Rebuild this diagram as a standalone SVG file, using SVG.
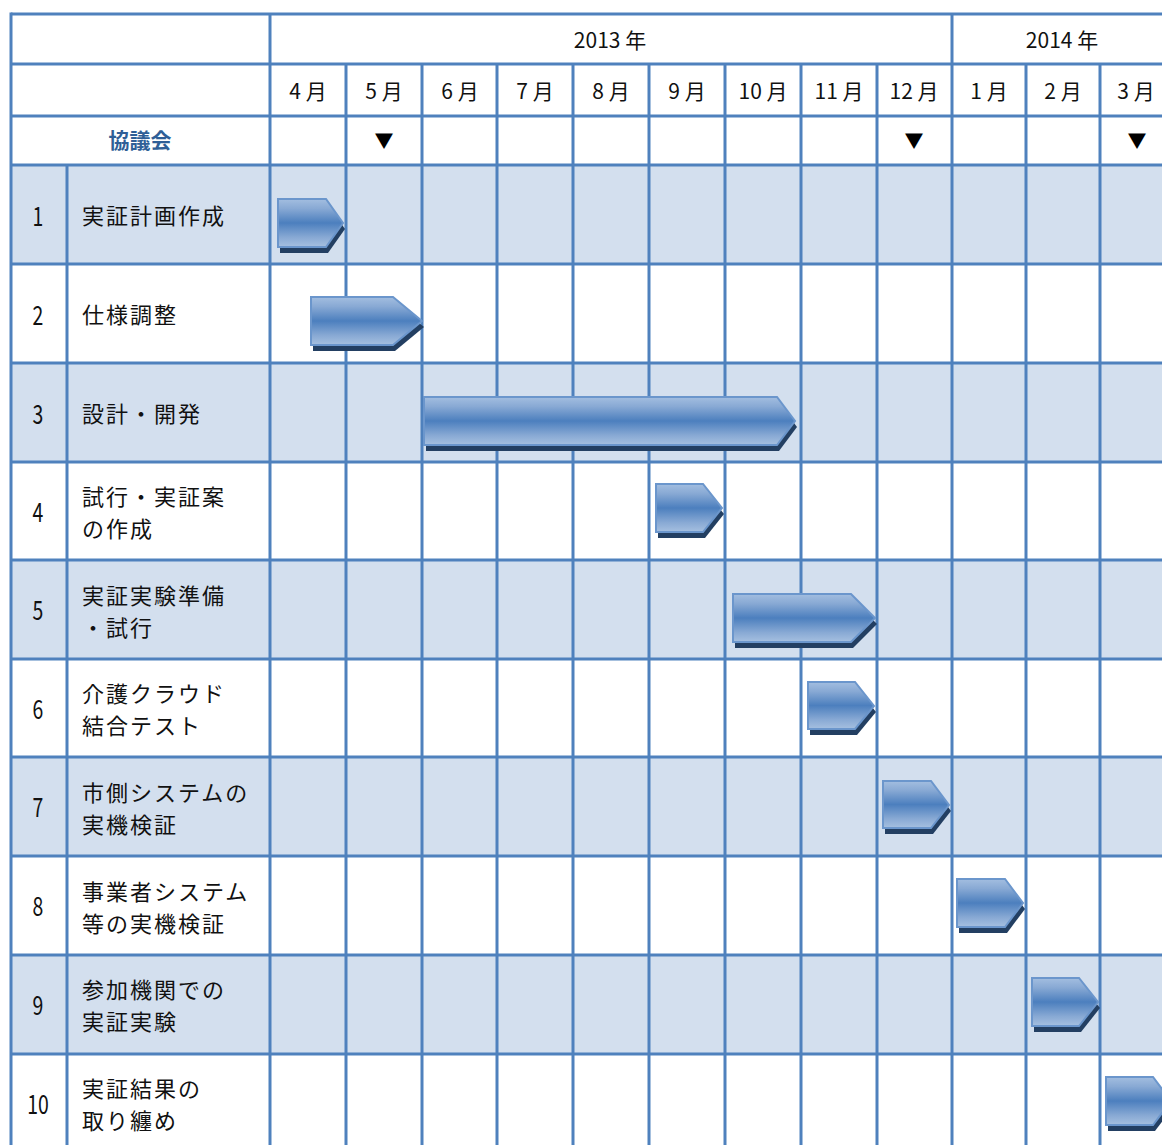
<svg xmlns="http://www.w3.org/2000/svg" width="1162" height="1145" viewBox="0 0 1162 1145">
<defs>
<linearGradient id="barGrad" x1="0" y1="0" x2="0" y2="1">
<stop offset="0" stop-color="#A3BEE0"/>
<stop offset="0.2" stop-color="#88A9D4"/>
<stop offset="0.5" stop-color="#4C7FBE"/>
<stop offset="0.8" stop-color="#88A9D4"/>
<stop offset="1" stop-color="#A6C0E0"/>
</linearGradient>
<style>
.fill{fill:#D3DFEE}
.ln{stroke:#4F81BD;stroke-width:3;fill:none}
.t{font-family:"Noto Sans CJK JP","Noto Sans",sans-serif;fill:#111}
.m{font-size:21px;text-anchor:middle}
.nm{font-size:22px;letter-spacing:2px}
.no{font-size:27px;text-anchor:middle}
.kg{font-size:21px;font-weight:bold;fill:#2F5F97;text-anchor:middle}
.tri{font-size:19px;text-anchor:middle;fill:#000}
.bar{fill:url(#barGrad);stroke:#6B96CC;stroke-width:2;stroke-linejoin:miter}
.sh{fill:#233F62}
</style>
</defs>
<rect x="0" y="0" width="1162" height="1145" fill="#FFFFFF"/>
<g id="row-fills">
<rect class="fill" x="11" y="165" width="1151" height="99"/>
<rect class="fill" x="11" y="363" width="1151" height="99"/>
<rect class="fill" x="11" y="560" width="1151" height="99"/>
<rect class="fill" x="11" y="757" width="1151" height="99"/>
<rect class="fill" x="11" y="955" width="1151" height="99"/>
</g>
<g id="grid">
<path class="ln" d="M11 14H1162M11 64H1162M11 116H1162M11 165H1162M11 264H1162M11 363H1162M11 462H1162M11 560H1162M11 659H1162M11 757H1162M11 856H1162M11 955H1162M11 1054H1162"/>
<path class="ln" d="M11 12.5V1145M67 165V1145M270 14V1145M952 14V1145"/>
<path class="ln" d="M346 64V1145M422 64V1145M497 64V1145M573 64V1145M649 64V1145M725 64V1145M801 64V1145M877 64V1145M1026 64V1145M1100 64V1145"/>
</g>
<g id="header">
<text class="t m" x="610" y="48">2013 年</text>
<text class="t m" x="1062" y="48">2014 年</text>
<text class="t m" x="308" y="99">4 月</text>
<text class="t m" x="384" y="99">5 月</text>
<text class="t m" x="460" y="99">6 月</text>
<text class="t m" x="535" y="99">7 月</text>
<text class="t m" x="611" y="99">8 月</text>
<text class="t m" x="687" y="99">9 月</text>
<text class="t m" x="763" y="99">10 月</text>
<text class="t m" x="839" y="99">11 月</text>
<text class="t m" x="914" y="99">12 月</text>
<text class="t m" x="989" y="99">1 月</text>
<text class="t m" x="1063" y="99">2 月</text>
<text class="t m" x="1136" y="99">3 月</text>
</g>
<g id="council">
<text class="t kg" x="140" y="148">協議会</text>
<text class="t tri" x="384" y="148">▼</text>
<text class="t tri" x="914" y="148">▼</text>
<text class="t tri" x="1137" y="148">▼</text>
</g>
<g id="task-1">
<text class="t no" transform="translate(38,226) scale(0.72,1)">1</text>
<text class="t nm" x="82" y="224">実証計画作成</text>
<polygon class="sh" points="280,205 328,205 345,229 328,253 280,253"/>
<polygon class="bar" points="278,199 326,199 343,223 326,247 278,247"/>
</g>
<g id="task-2">
<text class="t no" transform="translate(38,325) scale(0.72,1)">2</text>
<text class="t nm" x="82" y="323">仕様調整</text>
<polygon class="sh" points="313,303 395,303 424,327 395,351 313,351"/>
<polygon class="bar" points="311,297 393,297 422,321 393,345 311,345"/>
</g>
<g id="task-3">
<text class="t no" transform="translate(38,424) scale(0.72,1)">3</text>
<text class="t nm" x="82" y="422">設計・開発</text>
<polygon class="sh" points="426,403 779,403 797,427 779,451 426,451"/>
<polygon class="bar" points="424,397 777,397 795,421 777,445 424,445"/>
</g>
<g id="task-4">
<text class="t no" transform="translate(38,522) scale(0.72,1)">4</text>
<text class="t nm" x="82" y="505">試行・実証案</text>
<text class="t nm" x="82" y="537">の作成</text>
<polygon class="sh" points="658,490 705,490 724,514 705,538 658,538"/>
<polygon class="bar" points="656,484 703,484 722,508 703,532 656,532"/>
</g>
<g id="task-5">
<text class="t no" transform="translate(38,620) scale(0.72,1)">5</text>
<text class="t nm" x="82" y="604">実証実験準備</text>
<text class="t nm" x="82" y="636">・試行</text>
<polygon class="sh" points="735,600 853,600 877,624 853,648 735,648"/>
<polygon class="bar" points="733,594 851,594 875,618 851,642 733,642"/>
</g>
<g id="task-6">
<text class="t no" transform="translate(38,719) scale(0.72,1)">6</text>
<text class="t nm" x="82" y="702">介護クラウド</text>
<text class="t nm" x="82" y="734">結合テスト</text>
<polygon class="sh" points="810,688 857,688 876,712 857,735 810,735"/>
<polygon class="bar" points="808,682 855,682 874,706 855,729 808,729"/>
</g>
<g id="task-7">
<text class="t no" transform="translate(38,817) scale(0.72,1)">7</text>
<text class="t nm" x="82" y="801">市側システムの</text>
<text class="t nm" x="82" y="833">実機検証</text>
<polygon class="sh" points="885,787 933,787 951,811 933,834 885,834"/>
<polygon class="bar" points="883,781 931,781 949,805 931,828 883,828"/>
</g>
<g id="task-8">
<text class="t no" transform="translate(38,916) scale(0.72,1)">8</text>
<text class="t nm" x="82" y="900">事業者システム</text>
<text class="t nm" x="82" y="932">等の実機検証</text>
<polygon class="sh" points="959,885 1007,885 1025,909 1007,933 959,933"/>
<polygon class="bar" points="957,879 1005,879 1023,903 1005,927 957,927"/>
</g>
<g id="task-9">
<text class="t no" transform="translate(38,1015) scale(0.72,1)">9</text>
<text class="t nm" x="82" y="998">参加機関での</text>
<text class="t nm" x="82" y="1030">実証実験</text>
<polygon class="sh" points="1034,984 1081,984 1100,1008 1081,1032 1034,1032"/>
<polygon class="bar" points="1032,978 1079,978 1098,1002 1079,1026 1032,1026"/>
</g>
<g id="task-10">
<text class="t no" transform="translate(38,1114) scale(0.72,1)">10</text>
<text class="t nm" x="82" y="1097">実証結果の</text>
<text class="t nm" x="82" y="1129">取り纏め</text>
<polygon class="sh" points="1108,1083 1155,1083 1173,1107 1155,1131 1108,1131"/>
<polygon class="bar" points="1106,1077 1153,1077 1171,1101 1153,1125 1106,1125"/>
</g>
<g id="connectors"></g>
</svg>
